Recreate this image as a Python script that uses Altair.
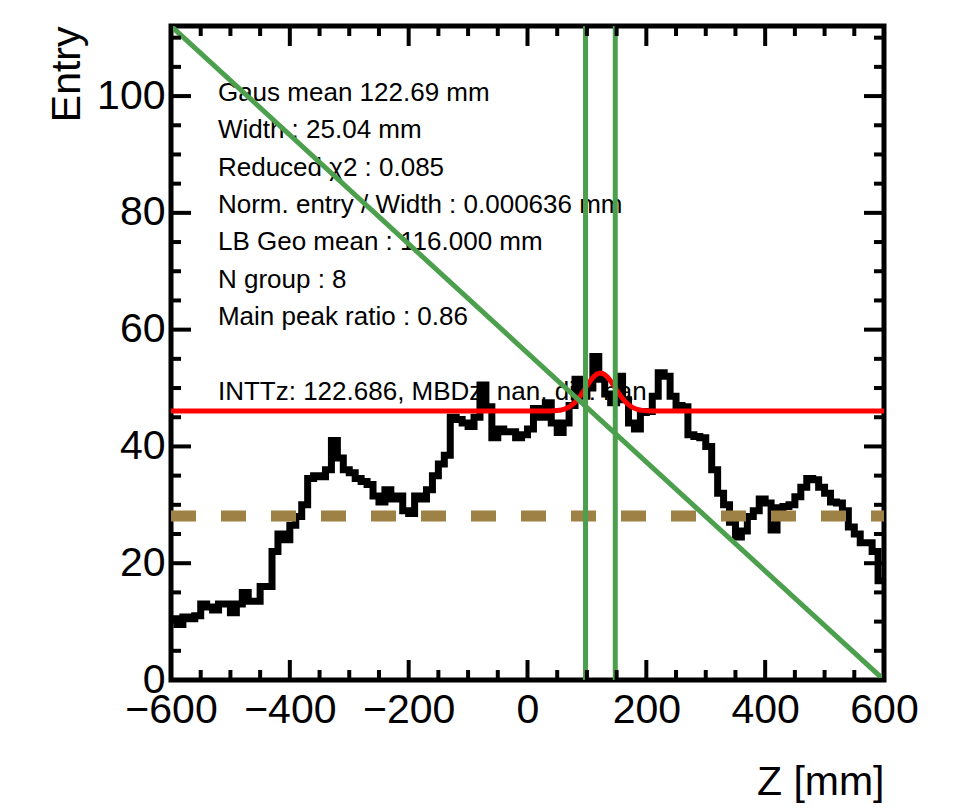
import altair as alt
import pandas as pd
import numpy as np

# ---------------- data ----------------
bin_lo = list(range(-600, 600, 10))
counts = [
    10.5, 9.5, 10.8, 10.5, 11, 13, 12.5, 12, 13, 13,
    11.5, 13, 15, 13.5, 13.5, 16, 16, 22, 25, 24,
    26.5, 28, 30, 34.5, 35, 34.8, 36, 41, 38, 36,
    35.5, 34.5, 34, 33.5, 31.5, 30.5, 32.6, 31, 31.5, 29,
    28.5, 31.5, 31, 32.6, 35, 37, 38.5, 45, 44.6, 44,
    43.4, 45, 50.5, 46.8, 41.5, 43, 42.5, 42.5, 41.5, 42,
    43, 46.5, 45, 47.5, 44, 42.4, 44, 47, 51.5, 48.6,
    50, 55.4, 51.5, 49, 47.5, 52, 48, 44, 43, 45.8,
    46, 48.6, 52.6, 52, 48.6, 47, 46.8, 42, 41.7, 41.5,
    40, 36, 32, 30, 27, 24.5, 25.5, 28, 29, 31,
    30.3, 25.7, 29.5, 29.7, 30, 31.4, 33, 34.5, 34.3, 33,
    32, 30.5, 30.3, 29, 26.2, 25, 23.5, 23.5, 22, 17,
]

fit_mean = 122.69
fit_sigma = 25.04
fit_amp = 6.5
fit_const = 46.06

dash_level = 28.1
vline_z = [97.65, 147.73]
diag_x = [-600, 600]
diag_y = [112, 0]

info_lines = [
    "Gaus mean 122.69 mm",
    "Width : 25.04 mm",
    "Reduced \u03c72 : 0.085",
    "Norm. entry / Width : 0.000636 mm",
    "LB Geo mean : 116.000 mm",
    "N group : 8",
    "Main peak ratio : 0.86",
    "INTTz: 122.686, MBDz: nan, diff: nan",
]
info_row = [0, 1, 2, 3, 4, 5, 6, 8]

x_major = [-600, -400, -200, 0, 200, 400, 600]
x_minor = [v for v in range(-600, 601, 50) if v not in x_major]
y_major = [0, 20, 40, 60, 80, 100]
y_minor = [v for v in range(0, 112, 5) if v not in y_major]

# ---------------- geometry ----------------
W, H = 713, 654
XMIN, XMAX = -600, 600
YMIN, YMAX = 0, 112
px_x = (XMAX - XMIN) / W   # data units per pixel (x)
px_y = (YMAX - YMIN) / H   # data units per pixel (y)
MAJ, MIN = 20, 10
FONT = "Liberation Sans"
FS = 41

xs = alt.Scale(domain=[XMIN, XMAX], nice=False, zero=False)
ys = alt.Scale(domain=[YMIN, YMAX], nice=False, zero=False)

xaxis = alt.Axis(values=x_major, ticks=False, domain=False, grid=False,
                 labelFontSize=FS, labelFont=FONT, labelColor="black",
                 labelPadding=10, labelFlush=False, labelOverlap=False,
                 labelBound=False,
                 title="Z [mm]", titleFontSize=FS, titleFont=FONT,
                 titleFontWeight="normal", titleColor="black",
                 titleAnchor="end", titleAlign="right", titleBaseline="alphabetic",
                 titleX=W, titleY=114)
yaxis = alt.Axis(values=y_major, ticks=False, domain=False, grid=False,
                 labelFontSize=FS, labelFont=FONT, labelColor="black",
                 labelPadding=6, labelFlush=False, labelOverlap=False,
                 labelBound=False,
                 title="Entry", titleFontSize=FS, titleFont=FONT,
                 titleFontWeight="normal", titleColor="black",
                 titleAngle=270, titleAlign="right", titleBaseline="alphabetic",
                 titleAnchor="end", titleX=-92, titleY=0)


def X(field):
    return alt.X(field, type="quantitative", scale=xs, axis=xaxis)


def Y(field):
    return alt.Y(field, type="quantitative", scale=ys, axis=yaxis)


# histogram (step)
hist_df = pd.DataFrame({"z": bin_lo + [600], "c": counts + [counts[-1]]})
hist = alt.Chart(hist_df).mark_line(
    color="black", strokeWidth=7, interpolate="step-after", clip=True
).encode(x=X("z"), y=Y("c"))

# fit curve
zf = np.arange(-600, 600.1, 2.0)
fit_df = pd.DataFrame({
    "z": zf,
    "f": fit_const + fit_amp * np.exp(-0.5 * ((zf - fit_mean) / fit_sigma) ** 2),
})
fit = alt.Chart(fit_df).mark_line(color="#ff0000", strokeWidth=5, clip=True).encode(
    x=X("z"), y=Y("f"))

# dashed level
dash_df = pd.DataFrame({"z": [XMIN, XMAX], "v": [dash_level, dash_level]})
dash = alt.Chart(dash_df).mark_line(
    color="#9d8145", strokeWidth=11, strokeDash=[25, 25], strokeCap="butt"
).encode(x=X("z"), y=Y("v"))

# green diagonal
diag_df = pd.DataFrame({"z": diag_x, "v": diag_y})
diag = alt.Chart(diag_df).mark_line(color="#4c9f4c", strokeWidth=5, clip=True).encode(
    x=X("z"), y=Y("v"))

# green vertical lines
vl_df = pd.DataFrame({"z": vline_z, "y0": [YMIN] * 2, "y1": [YMAX] * 2})
vl = alt.Chart(vl_df).mark_rule(color="#4c9f4c", strokeWidth=5).encode(
    x=X("z"), y=Y("y0"), y2="y1")

# info text
txt_df = pd.DataFrame({
    "t": info_lines,
    "x": [-521] * len(info_lines),
    "y": [99.2 - r * 6.41 for r in info_row],
})
txt = alt.Chart(txt_df).mark_text(
    align="left", baseline="alphabetic", fontSize=26, font=FONT, color="black"
).encode(x=X("x"), y=Y("y"), text="t")

# inward ticks on all four sides
rows = []
for v in x_major + x_minor:
    L = (MAJ if v in x_major else MIN) * px_y
    rows.append({"x0": v, "x1": v, "y0": YMIN, "y1": YMIN + L})
    rows.append({"x0": v, "x1": v, "y0": YMAX, "y1": YMAX - L})
for v in y_major + y_minor:
    L = (MAJ if v in y_major else MIN) * px_x
    rows.append({"x0": XMIN, "x1": XMIN + L, "y0": v, "y1": v})
    rows.append({"x0": XMAX, "x1": XMAX - L, "y0": v, "y1": v})
tick_df = pd.DataFrame(rows)
ticks = alt.Chart(tick_df).mark_rule(color="black", strokeWidth=4, strokeCap="butt").encode(
    x=X("x0"), x2="x1", y=Y("y0"), y2="y1")

chart = alt.layer(txt, hist, fit, dash, diag, vl, ticks).properties(
    width=W, height=H,
    autosize=alt.AutoSizeParams(type="none"),
    padding={"left": 163, "top": 18, "right": 74, "bottom": 128},
    background="white",
).configure_view(stroke="black", strokeWidth=5)

chart.save("out.html", embed_options={"renderer": "svg", "actions": False})
